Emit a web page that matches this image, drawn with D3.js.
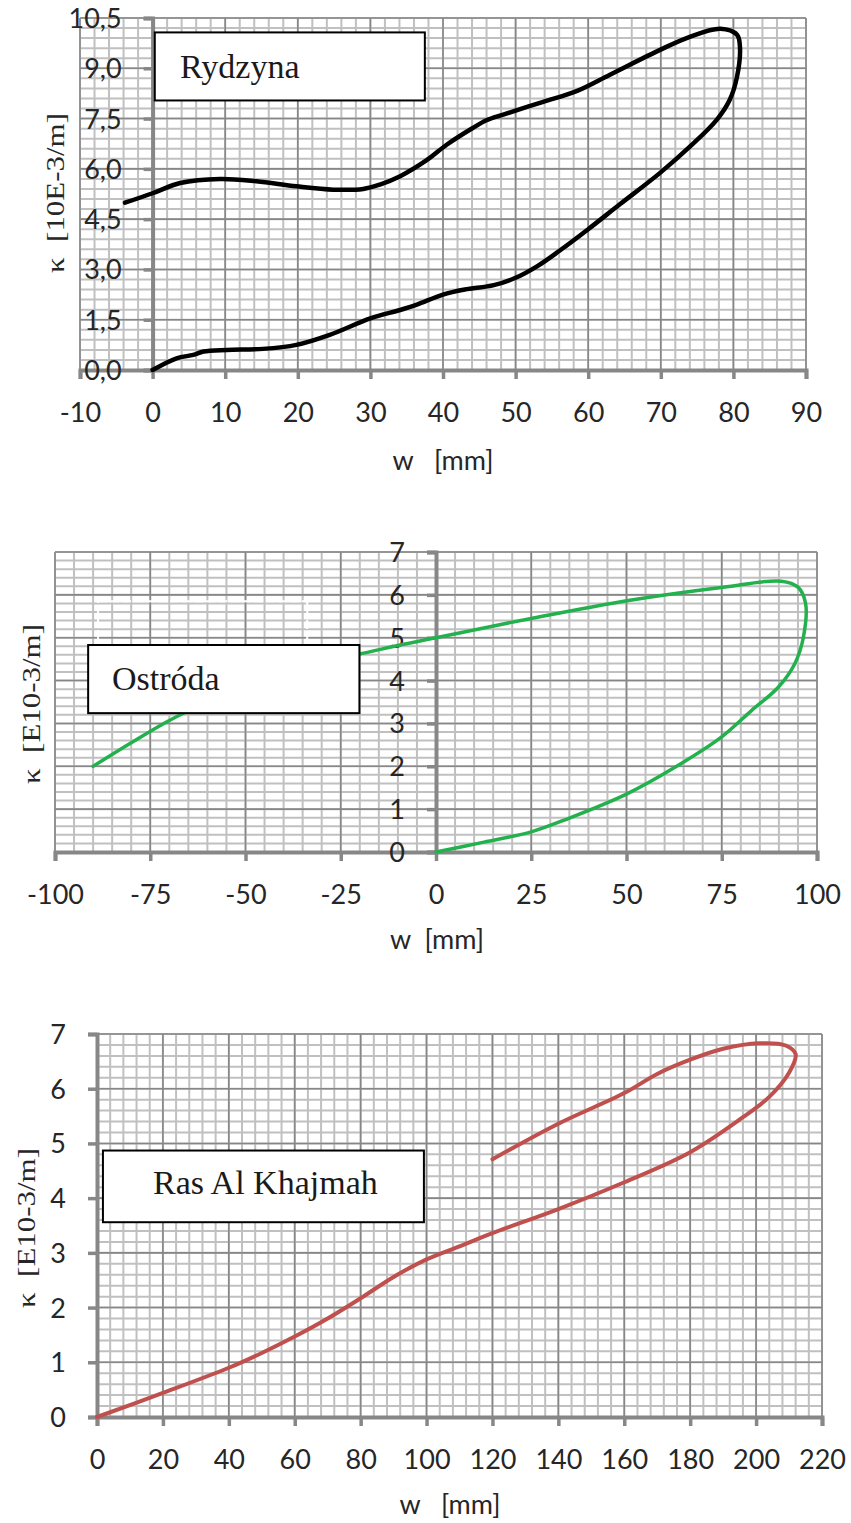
<!DOCTYPE html>
<html>
<head>
<meta charset="utf-8">
<script src="https://cdn.jsdelivr.net/npm/d3@7"></script>
<style>
  body { margin: 0; background: #fff; }
  svg { display: block; }
</style>
</head>
<body>
<svg id="plot"></svg>
<script>
// Rydzyna loop (black)
const rydzynaW = [0, 3.3, 5.6, 7, 10.2, 15.2, 19.8, 24.4, 30, 34.1, 36.4, 40, 43, 47, 50, 53, 56, 60, 64.4, 69.9, 74, 77.7, 79.5, 80.5, 80.9, 80.5, 78.2, 74, 69.9, 63, 58.4, 53.8, 48.3, 46, 44.1, 40.5, 37.7, 34.1, 31.3, 29, 24.9, 19.8, 14.3, 9.3, 3.8, 0.1, -3.8];
const rydzynaK = [0, 0.35, 0.45, 0.55, 0.6, 0.63, 0.75, 1.05, 1.54, 1.79, 1.95, 2.25, 2.4, 2.53, 2.75, 3.1, 3.55, 4.2, 4.95, 5.88, 6.66, 7.46, 8.06, 8.75, 9.64, 10.0, 10.18, 9.94, 9.55, 8.81, 8.32, 8.0, 7.62, 7.45, 7.22, 6.72, 6.25, 5.78, 5.53, 5.4, 5.38, 5.48, 5.63, 5.7, 5.58, 5.28, 4.99];
const rydzynaXTicks = [-10, 0, 10, 20, 30, 40, 50, 60, 70, 80, 90];
const rydzynaYTicks = [0, 1.5, 3, 4.5, 6, 7.5, 9, 10.5];
const rydzynaYLabels = ["0,0", "1,5", "3,0", "4,5", "6,0", "7,5", "9,0", "10,5"];

// Ostróda loop (green)
const ostrodaW = [0, 12.6, 25, 34.7, 50, 62.6, 74.9, 82.8, 89.9, 94.2, 96.4, 97, 95, 90.6, 75.4, 50.5, 25, 0, -10, -20, -30, -40, -50, -60, -70, -80, -90];
const ostrodaK = [0, 0.23, 0.47, 0.78, 1.35, 1.97, 2.68, 3.3, 3.85, 4.4, 5.0, 5.8, 6.18, 6.32, 6.18, 5.87, 5.45, 5.0, 4.82, 4.62, 4.42, 4.18, 3.88, 3.5, 3.07, 2.55, 2.0];
const ostrodaXTicks = [-100, -75, -50, -25, 0, 25, 50, 75, 100];
const ostrodaYTicks = [0, 1, 2, 3, 4, 5, 6, 7];

// Ras Al Khajmah loop (red)
const rasW = [0, 20, 40, 50, 60, 70, 80, 90, 100, 110, 120, 140, 160, 180, 195.8, 204, 210, 212, 209, 201, 190, 180, 170, 160, 140, 120];
const rasK = [0, 0.44, 0.9, 1.17, 1.47, 1.8, 2.17, 2.56, 2.88, 3.12, 3.36, 3.8, 4.29, 4.84, 5.47, 5.85, 6.29, 6.63, 6.79, 6.83, 6.73, 6.53, 6.27, 5.92, 5.36, 4.71];
const rasXTicks = [0, 20, 40, 60, 80, 100, 120, 140, 160, 180, 200, 220];
const rasYTicks = [0, 1, 2, 3, 4, 5, 6, 7];

const width = 851;
const height = 1523;
const gridMinor = "#c0c0c0";
const gridMajor = "#878787";
const axisColor = "#878787";
const textColor = "#262626";
const sansFont = "Lato, 'Liberation Sans', sans-serif";
const serifFont = "'Liberation Serif', 'Times New Roman', serif";

const svg = d3.select("#plot")
    .attr("width", width)
    .attr("height", height);

const charts = [
  {
    name: "Rydzyna", w: rydzynaW, k: rydzynaK, color: "#000000", lineWidth: 4.5,
    xDomain: [-10, 90], xRange: [80, 806], yDomain: [0, 10.5], yRange: [370, 18],
    xTicks: rydzynaXTicks, yTicks: rydzynaYTicks, yLabels: rydzynaYLabels,
    xMinor: 2, yMinor: 0.3,
    xTitle: "w   [mm]", xTitlePos: [443, 461],
    yTitle: "κ  [10E-3/m]", yTitlePos: [64, 193],
    box: {w0: 0.3, w1: 37.5, k0: 10.07, k1: 8.04, tx: 180, ty: 78}
  },
  {
    name: "Ostróda", w: ostrodaW, k: ostrodaK, color: "#22b14c", lineWidth: 3.5,
    xDomain: [-100, 100], xRange: [55, 817], yDomain: [0, 7], yRange: [852, 552],
    xTicks: ostrodaXTicks, yTicks: ostrodaYTicks, yLabels: ostrodaYTicks.map(String),
    xMinor: 5, yMinor: 0.2,
    xTitle: "w  [mm]", xTitlePos: [437, 940],
    yTitle: "κ  [E10-3/m]", yTitlePos: [40, 704],
    ghost: {w0: -88.7, w1: -33.8, k0: 5.85, k1: 4.83},
    box: {w0: -91.3, w1: -20.1, k0: 4.83, k1: 3.24, tx: 112, ty: 690}
  },
  {
    name: "Ras Al Khajmah", w: rasW, k: rasK, color: "#c0504d", lineWidth: 4,
    xDomain: [0, 220], xRange: [97, 822], yDomain: [0, 7], yRange: [1417, 1034],
    xTicks: rasXTicks, yTicks: rasYTicks, yLabels: rasYTicks.map(String),
    xMinor: 4, yMinor: 0.2,
    xTitle: "w   [mm]", xTitlePos: [450, 1505],
    yTitle: "κ  [E10-3/m]", yTitlePos: [35, 1228],
    box: {w0: 1.8, w1: 99.2, k0: 4.87, k1: 3.56, tx: 153, ty: 1194}
  }
];

charts.forEach(drawChart);

function drawChart(c) {
  const x = d3.scaleLinear().domain(c.xDomain).range(c.xRange);
  const y = d3.scaleLinear().domain(c.yDomain).range(c.yRange);
  const g = svg.append("g");

  // minor grid
  const xMinorVals = d3.range(c.xDomain[0], c.xDomain[1] + 1e-9, c.xMinor);
  const yMinorVals = d3.range(c.yDomain[0], c.yDomain[1] + 1e-9, c.yMinor);
  g.append("g")
      .attr("stroke", gridMinor)
      .attr("stroke-width", 2)
    .selectAll("line")
    .data(xMinorVals)
    .join("line")
      .attr("x1", d => x(d)).attr("x2", d => x(d))
      .attr("y1", y(c.yDomain[0])).attr("y2", y(c.yDomain[1]));
  g.append("g")
      .attr("stroke", gridMinor)
      .attr("stroke-width", 2)
    .selectAll("line")
    .data(yMinorVals)
    .join("line")
      .attr("y1", d => y(d)).attr("y2", d => y(d))
      .attr("x1", x(c.xDomain[0])).attr("x2", x(c.xDomain[1]));

  // major grid
  g.append("g")
      .attr("stroke", gridMajor)
      .attr("stroke-width", 1.6)
    .selectAll("line")
    .data(c.xTicks)
    .join("line")
      .attr("x1", d => x(d)).attr("x2", d => x(d))
      .attr("y1", y(c.yDomain[0])).attr("y2", y(c.yDomain[1]));
  g.append("g")
      .attr("stroke", gridMajor)
      .attr("stroke-width", 1.6)
    .selectAll("line")
    .data(c.yTicks)
    .join("line")
      .attr("y1", d => y(d)).attr("y2", d => y(d))
      .attr("x1", x(c.xDomain[0])).attr("x2", x(c.xDomain[1]));

  // axes crossing at zero
  const xAxis = g.append("g")
      .attr("transform", `translate(0,${y(0)})`)
      .call(d3.axisBottom(x).tickValues(c.xTicks).tickSizeOuter(0).tickSize(9).tickPadding(24)
        .tickFormat(d => String(d)));
  const yAxis = g.append("g")
      .attr("transform", `translate(${x(0)},0)`)
      .call(d3.axisLeft(y).tickValues(c.yTicks).tickSizeOuter(0).tickSize(9).tickPadding(22)
        .tickFormat((d, i) => c.yLabels[i]));

  [xAxis, yAxis].forEach(a => {
    a.select(".domain").attr("stroke", axisColor).attr("stroke-width", 4);
    a.selectAll(".tick line").attr("stroke", axisColor).attr("stroke-width", 3.5);
    a.selectAll(".tick text")
        .attr("fill", textColor)
        .attr("font-family", sansFont)
        .attr("font-size", 27);
  });
  yAxis.selectAll(".tick text").attr("dy", "0.35em");

  // the curve
  const line = d3.line()
      .x(d => x(d[0]))
      .y(d => y(d[1]))
      .curve(d3.curveCatmullRom.alpha(0.5));
  g.append("path")
      .datum(d3.zip(c.w, c.k))
      .attr("fill", "none")
      .attr("stroke", c.color)
      .attr("stroke-width", c.lineWidth)
      .attr("stroke-linejoin", "round")
      .attr("stroke-linecap", "round")
      .attr("d", line);

  // leftover empty text frame (white dashed)
  if (c.ghost) {
    g.append("rect")
        .attr("x", x(c.ghost.w0))
        .attr("y", y(c.ghost.k0))
        .attr("width", x(c.ghost.w1) - x(c.ghost.w0))
        .attr("height", y(c.ghost.k1) - y(c.ghost.k0))
        .attr("fill", "none")
        .attr("stroke", "#ffffff")
        .attr("stroke-width", 2)
        .attr("stroke-dasharray", "9,3");
  }

  // name box
  g.append("rect")
      .attr("x", x(c.box.w0))
      .attr("y", y(c.box.k0))
      .attr("width", x(c.box.w1) - x(c.box.w0))
      .attr("height", y(c.box.k1) - y(c.box.k0))
      .attr("fill", "#ffffff")
      .attr("stroke", "#000000")
      .attr("stroke-width", 2);
  g.append("text")
      .attr("x", c.box.tx)
      .attr("y", c.box.ty)
      .attr("font-family", serifFont)
      .attr("font-size", 34)
      .attr("fill", "#1a1a1a")
      .text(c.name);

  // axis titles
  g.append("text")
      .attr("x", c.xTitlePos[0])
      .attr("y", c.xTitlePos[1])
      .attr("dy", "0.35em")
      .attr("text-anchor", "middle")
      .attr("font-family", sansFont)
      .attr("font-size", 27)
      .attr("fill", textColor)
      .style("white-space", "pre")
      .text(c.xTitle);
  g.append("text")
      .attr("transform", `translate(${c.yTitlePos[0]},${c.yTitlePos[1]}) rotate(-90)`)
      .attr("text-anchor", "middle")
      .attr("font-family", serifFont)
      .attr("font-size", 26)
      .attr("textLength", 160)
      .attr("lengthAdjust", "spacingAndGlyphs")
      .attr("fill", textColor)
      .style("white-space", "pre")
      .text(c.yTitle);
}
</script>
</body>
</html>
